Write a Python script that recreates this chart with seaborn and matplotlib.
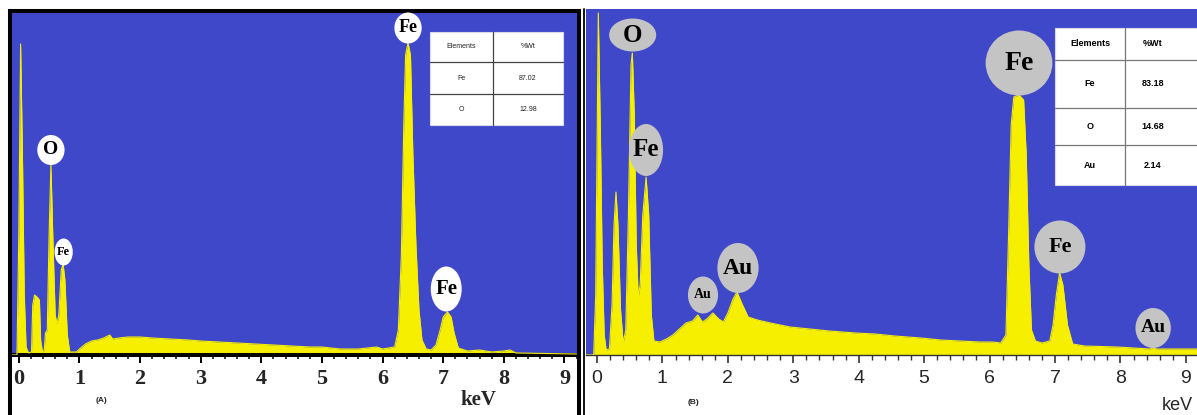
import numpy as np
import matplotlib.pyplot as plt
import seaborn as sns
from matplotlib.patches import Ellipse, Rectangle
from matplotlib.lines import Line2D

# ---- spectrum (A): energy in keV, counts (arbitrary units) ----
energy_a = [-0.12, -0.03, 0.00, 0.03, 0.06, 0.09, 0.12, 0.16, 0.21, 0.23, 0.26, 0.30, 0.34, 0.36,
            0.39, 0.42, 0.44, 0.47, 0.50, 0.53, 0.56, 0.60, 0.63, 0.66, 0.70, 0.73, 0.76, 0.80,
            0.84, 0.95, 1.00, 1.10, 1.20, 1.30, 1.40, 1.50, 1.55, 1.65, 1.80, 2.00, 2.20, 2.50,
            2.80, 3.00, 3.30, 3.60, 3.90, 4.20, 4.50, 4.80, 5.00, 5.30, 5.60, 5.90, 6.00, 6.20,
            6.26, 6.31, 6.35, 6.38, 6.42, 6.46, 6.50, 6.55, 6.60, 6.65, 6.72, 6.80, 6.88, 6.95,
            7.00, 7.07, 7.13, 7.18, 7.25, 7.40, 7.60, 7.80, 8.00, 8.10, 8.20, 9.20]
counts_a = [0, 0, 120, 311, 200, 60, 8, 2, 3, 50, 60, 58, 55, 15,
            3, 5, 22, 25, 120, 191, 120, 40, 31, 40, 85, 91, 75, 20,
            3, 3, 6, 11, 14, 15, 17, 20, 16, 17, 18, 18, 17, 16,
            15, 14, 13, 12, 11, 10, 9, 8, 8, 6, 6, 8, 6, 8,
            25, 100, 230, 300, 312, 300, 200, 110, 45, 15, 6, 5, 10, 25,
            38, 43, 38, 22, 7, 4, 5, 3, 4, 5, 2, 1]

# ---- spectrum (B) ----
energy_b = [-0.17, -0.05, -0.02, 0.02, 0.05, 0.08, 0.11, 0.14, 0.19, 0.23, 0.26, 0.29, 0.32, 0.36,
            0.40, 0.44, 0.48, 0.52, 0.54, 0.57, 0.60, 0.63, 0.66, 0.70, 0.75, 0.79, 0.83, 0.87,
            0.96, 1.06, 1.16, 1.26, 1.36, 1.46, 1.54, 1.61, 1.68, 1.77, 1.86, 1.93, 2.00, 2.08,
            2.14, 2.21, 2.31, 2.45, 2.65, 2.95, 3.25, 3.55, 3.95, 4.25, 4.55, 4.95, 5.25, 5.55,
            5.85, 6.05, 6.17, 6.25, 6.29, 6.33, 6.37, 6.45, 6.52, 6.56, 6.60, 6.64, 6.70, 6.80,
            6.92, 6.97, 7.02, 7.07, 7.12, 7.19, 7.27, 7.45, 7.95, 8.45, 8.50, 8.55, 8.95, 9.17]
counts_b = [0, 0, 60, 342, 230, 90, 20, 5, 6, 50, 130, 163, 130, 45,
            12, 25, 140, 290, 302, 240, 110, 58, 70, 140, 178, 140, 40, 14,
            13, 16, 20, 26, 32, 34, 40, 33, 36, 42, 36, 33, 42, 56,
            63, 52, 38, 35, 32, 28, 26, 24, 22, 21, 19, 17, 15, 14,
            13, 13, 12, 20, 120, 230, 258, 260, 255, 200, 90, 25, 14, 12,
            14, 30, 60, 82, 70, 30, 11, 9, 8, 6, 7, 6, 6, 6]

tick_values = list(range(10))

table_a_rows = [["Elements", "%Wt"], ["Fe", "87.02"], ["O", "12.98"]]
table_b_rows = [["Elements", "%Wt"], ["Fe", "83.18"], ["O", "14.68"], ["Au", "2.14"]]

# peak tags: (element, keV, counts, ellipse width keV, ellipse height, fontsize)
tags_a = [("Fe", 6.42, 327, 0.45, 31, 13),
          ("O", 0.53, 205, 0.45, 30, 14),
          ("Fe", 0.74, 103, 0.30, 27, 9),
          ("Fe", 7.05, 66, 0.51, 45, 15)]
tags_b = [("O", 0.545, 320, 0.72, 33, 18),
          ("Fe", 0.75, 205, 0.52, 52, 18),
          ("Au", 1.62, 60, 0.46, 37, 10),
          ("Au", 2.155, 87, 0.63, 50, 17),
          ("Fe", 6.45, 292, 1.02, 65, 20),
          ("Fe", 7.075, 108, 0.78, 53, 16),
          ("Au", 8.50, 27, 0.54, 40, 14)]

BLUE = '#3f48c9'
YELLOW = '#f6f000'
W, H = 1197, 415

sns.set_style('white')
plt.rcParams['font.family'] = ['Liberation Serif', 'DejaVu Serif']

fig = plt.figure(figsize=(W / 100, H / 100), dpi=100)
fig.patch.set_facecolor('white')


def px_axes(l, t, r, b):
    return fig.add_axes([l / W, 1 - b / H, (r - l) / W, (b - t) / H])


def px_line(x0, y0, x1, y1, lw, color='black'):
    fig.add_artist(Line2D([x0 / W, x1 / W], [1 - y0 / H, 1 - y1 / H],
                          transform=fig.transFigure, lw=lw, color=color))


def draw_spectrum(ax, x, y):
    ax.set_facecolor(BLUE)
    ax.fill_between(x, y, 0, color=YELLOW, lw=0, zorder=2)
    sns.lineplot(x=x, y=y, ax=ax, color=YELLOW, lw=0.8, zorder=3, estimator=None)


def draw_tags(ax, tags, face, family):
    for el, xk, yc, w, h, fs in tags:
        ax.add_patch(Ellipse((xk, yc), w, h, facecolor=face, edgecolor='none', zorder=5, clip_on=False))
        ax.text(xk, yc, el, ha='center', va='center', fontsize=fs, fontweight='bold',
                family=family, color='black', zorder=6)


def draw_table(left, top, col_x, row_y, right, bottom, rows, text_x, font, line_color):
    fig.add_artist(Rectangle((left / W, 1 - bottom / H), (right - left) / W, (bottom - top) / H,
                             transform=fig.transFigure, facecolor='white',
                             edgecolor='#d8d8e8', lw=0.8, zorder=10))
    fig.add_artist(Line2D([col_x / W] * 2, [1 - top / H, 1 - bottom / H],
                          transform=fig.transFigure, color=line_color, lw=0.9, zorder=11))
    for ry in row_y[1:-1]:
        fig.add_artist(Line2D([left / W, right / W], [1 - ry / H] * 2,
                              transform=fig.transFigure, color=line_color, lw=0.9, zorder=11))
    for i, row in enumerate(rows):
        yc = (row_y[i] + row_y[i + 1]) / 2
        for txt, xc in zip(row, text_x):
            fig.text(xc / W, 1 - yc / H, txt, ha='center', va='center', zorder=12, **font)


# ---------------- panel A ----------------
ax_a = px_axes(10, 11, 579, 355)
draw_spectrum(ax_a, energy_a, counts_a)
ax_a.set_xlim(-0.145, 9.24)
ax_a.set_ylim(0, 344)
ax_a.set_yticks([])
ax_a.set_xticks(tick_values)
ax_a.set_xticks(np.arange(0, 9.21, 0.2), minor=True)
ax_a.set_xticklabels([str(t) for t in tick_values], family='Liberation Serif',
                     fontweight='bold', fontsize=16)
ax_a.tick_params(axis='x', which='major', direction='out', length=6, width=1.4,
                 color='black', pad=4, bottom=True)
ax_a.tick_params(axis='x', which='minor', direction='out', length=3, width=1.1,
                 color='black', bottom=True)
ax_a.set_xlabel('')
ax_a.set_ylabel('')
for s in ax_a.spines.values():
    s.set_visible(True)
    s.set_color('black')
    s.set_linewidth(2.9)
draw_tags(ax_a, tags_a, 'white', 'Liberation Serif')

# frame of panel A continuing below the axis
px_line(10, 355, 10, 415, 2.9)
px_line(579, 355, 579, 415, 2.9)
px_line(584, 9, 584, 415, 1.3)

fig.text(101 / W, 1 - 400 / H, '(A)', ha='center', va='center', fontsize=6,
         fontweight='bold', family='Liberation Sans')
fig.text(478 / W, 1 - 400 / H, 'keV', ha='center', va='center', fontsize=15,
         fontweight='bold', family='Liberation Serif')

draw_table(430, 32, 493, [32, 62, 94, 125], 563, 125, table_a_rows, [461, 528],
           dict(fontsize=5, family='Liberation Sans', color='#222222'), '#444444')

# ---------------- panel B ----------------
ax_b = px_axes(586, 9, 1197, 355)
draw_spectrum(ax_b, energy_b, counts_b)
ax_b.set_xlim(-0.168, 9.17)
ax_b.set_ylim(0, 346)
ax_b.set_yticks([])
ax_b.set_xticks(tick_values)
ax_b.set_xticks(np.arange(0, 9.17, 0.2), minor=True)
ax_b.set_xticklabels([str(t) for t in tick_values], family='Liberation Sans', fontsize=14)
ax_b.tick_params(axis='x', which='major', direction='out', length=6, width=1.2,
                 color='#333333', pad=5, bottom=True)
ax_b.tick_params(axis='x', which='minor', direction='out', length=3.5, width=1.0,
                 color='#333333', bottom=True)
ax_b.set_xlabel('')
ax_b.set_ylabel('')
for name, s in ax_b.spines.items():
    s.set_visible(name == 'bottom')
    s.set_color('#333333')
    s.set_linewidth(1.0)
draw_tags(ax_b, tags_b, '#c4c4c4', 'Liberation Serif')

fig.text(694 / W, 1 - 402 / H, '(B)', ha='center', va='center', fontsize=6,
         fontweight='bold', family='Liberation Sans')
fig.text(1193 / W, 1 - 405 / H, 'keV', ha='right', va='center', fontsize=13,
         family='Liberation Sans')

draw_table(1055, 28, 1125, [28, 60, 108, 145, 185], 1215, 185, table_b_rows, [1090, 1153],
           dict(fontsize=6.5, family='Liberation Sans', fontweight='bold', color='black'), '#777777')

fig.savefig('out.png', dpi=100)
